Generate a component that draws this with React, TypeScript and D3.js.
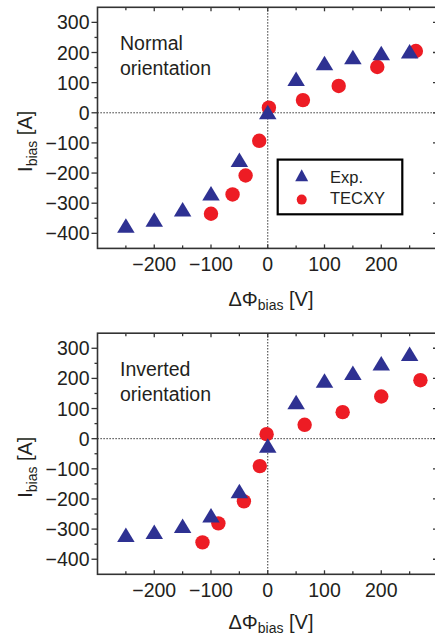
import React from "react";
import * as d3 from "d3";

// Bias voltage / bias current characteristics
const xTickValues = [-200, -100, 0, 100, 200];
const yTickValues = [-400, -300, -200, -100, 0, 100, 200, 300];

// Normal orientation
const normalExpPhi = [-250, -200, -150, -100, -50, 0, 50, 100, 150, 200, 250];
const normalExpI = [-374, -354, -320, -267, -156, 3, 113, 165, 185, 198, 204];
const normalTecxyPhi = [-100, -62, -39, -15, 2, 62, 125, 193, 261];
const normalTecxyI = [-335, -271, -208, -93, 17, 42, 89, 152, 205];

// Inverted orientation
const invertedExpPhi = [-250, -200, -150, -100, -50, 0, 50, 100, 150, 200, 250];
const invertedExpI = [-319, -309, -289, -254, -174, -23, 122, 193, 219, 250, 282];
const invertedTecxyPhi = [-115, -87, -42, -14, -2, 65, 132, 200, 269];
const invertedTecxyI = [-344, -281, -208, -91, 15, 46, 88, 140, 194];

const legendLabels = ["Exp.", "TECXY"];

const EXP_COLOR = "#2e3192";
const TECXY_COLOR = "#ed1c24";
const AXIS_COLOR = "#333";
const TEXT_COLOR = "#231f20";
const FONT = "'Liberation Sans', Arial, Helvetica, sans-serif";

const WIDTH = 435;
const HEIGHT = 638;

const trianglePath = (cx: number, cy: number, w: number, h: number) =>
  `M${cx},${cy - h / 2}L${cx + w / 2},${cy + h / 2}L${cx - w / 2},${cy + h / 2}Z`;

type PanelProps = {
  top: number;
  expPhi: number[];
  expI: number[];
  tecPhi: number[];
  tecI: number[];
  title: string[];
  legend: boolean;
  xTitleY: number;
};

function Panel({ top, expPhi, expI, tecPhi, tecI, title, legend, xTitleY }: PanelProps) {
  const left = 97.5;
  const right = 438;
  const plotTop = top;
  const plotBottom = top + 241.1;

  const x = d3.scaleLinear().domain([-300, 300]).range([left, right]);
  const y = d3.scaleLinear().domain([-450, 350]).range([plotBottom, plotTop]);

  const xAllTicks = d3.range(-250, 300, 50);
  const yAllTicks = d3.range(-450, 351, 50).filter((v) => v > -450 && v < 350);

  const tickFont = 19.5;

  return (
    <g>
      {/* zero reference lines */}
      <line
        x1={left}
        x2={right}
        y1={y(0)}
        y2={y(0)}
        stroke="#000"
        strokeWidth={1}
        strokeDasharray="1.2,1.8"
      />
      <line
        x1={x(0)}
        x2={x(0)}
        y1={plotTop}
        y2={plotBottom}
        stroke="#000"
        strokeWidth={1}
        strokeDasharray="1.2,1.8"
      />

      {/* frame */}
      <rect
        x={left}
        y={plotTop}
        width={right - left}
        height={plotBottom - plotTop}
        fill="none"
        stroke={AXIS_COLOR}
        strokeWidth={1.6}
      />

      {/* x ticks: inward on top and bottom */}
      {xAllTicks.map((v) => {
        const major = v % 100 === 0;
        const len = major ? 4 : 3;
        return (
          <g key={`xt${v}`}>
            <line x1={x(v)} x2={x(v)} y1={plotBottom} y2={plotBottom - len} stroke={AXIS_COLOR} strokeWidth={1.3} />
            <line x1={x(v)} x2={x(v)} y1={plotTop} y2={plotTop + len} stroke={AXIS_COLOR} strokeWidth={1.3} />
          </g>
        );
      })}

      {/* y ticks: outward on the left, inward on the right */}
      {yAllTicks.map((v) => {
        const major = v % 100 === 0;
        return (
          <g key={`yt${v}`}>
            <line x1={left} x2={left - (major ? 6 : 3)} y1={y(v)} y2={y(v)} stroke={AXIS_COLOR} strokeWidth={1.3} />
            <line x1={right} x2={right - (major ? 5 : 3)} y1={y(v)} y2={y(v)} stroke={AXIS_COLOR} strokeWidth={1.3} />
          </g>
        );
      })}

      {/* tick labels */}
      {xTickValues.map((v) => (
        <text
          key={`xl${v}`}
          x={x(v)}
          y={plotBottom + 22.5}
          textAnchor="middle"
          fontSize={tickFont}
          fontFamily={FONT}
          fill={TEXT_COLOR}
        >
          {v < 0 ? `\u2212${Math.abs(v)}` : `${v}`}
        </text>
      ))}
      {yTickValues.map((v) => (
        <text
          key={`yl${v}`}
          x={left - 8}
          y={y(v) + 7}
          textAnchor="end"
          fontSize={tickFont}
          fontFamily={FONT}
          fill={TEXT_COLOR}
        >
          {v < 0 ? `\u2212${Math.abs(v)}` : `${v}`}
        </text>
      ))}

      {/* axis titles */}
      <text
        transform={`translate(32,${top + 134}) rotate(-90)`}
        textAnchor="middle"
        fontSize={20}
        fontFamily={FONT}
        fill={TEXT_COLOR}
      >
        I
        <tspan fontSize={14} dy={4.5}>bias</tspan>
        <tspan dy={-4.5}> [A]</tspan>
      </text>
      <text
        x={271}
        y={xTitleY}
        textAnchor="middle"
        fontSize={20}
        fontFamily={FONT}
        fill={TEXT_COLOR}
      >
        ΔΦ
        <tspan fontSize={14} dy={4}>bias</tspan>
        <tspan dy={-4}> [V]</tspan>
      </text>

      {/* panel annotation */}
      <text x={120} y={top + 43} fontSize={19.5} fontFamily={FONT} fill={TEXT_COLOR}>
        {title[0]}
      </text>
      <text x={120} y={top + 68} fontSize={19.5} fontFamily={FONT} fill={TEXT_COLOR}>
        {title[1]}
      </text>

      {/* TECXY simulation */}
      {tecPhi.map((p, i) => (
        <circle key={`c${i}`} cx={x(p)} cy={y(tecI[i])} r={7.2} fill={TECXY_COLOR} />
      ))}

      {/* experimental data */}
      {expPhi.map((p, i) => (
        <path key={`t${i}`} d={trianglePath(x(p), y(expI[i]), 17.5, 14.5)} fill={EXP_COLOR} />
      ))}

      {legend && (
        <g>
          <rect x={277.7} y={top + 152.3} width={124.6} height={54.7} fill="#fff" stroke="#000" strokeWidth={2.2} />
          <path d={trianglePath(301.7, top + 168, 13, 12)} fill={EXP_COLOR} />
          <circle cx={301.7} cy={top + 192.3} r={5} fill={TECXY_COLOR} />
          <text x={330} y={top + 176} fontSize={16.5} fontFamily={FONT} fill={TEXT_COLOR}>
            {legendLabels[0]}
          </text>
          <text x={330} y={top + 197} fontSize={16.5} fontFamily={FONT} fill={TEXT_COLOR}>
            {legendLabels[1]}
          </text>
        </g>
      )}
    </g>
  );
}

export default function App() {
  return (
    <svg
      width={WIDTH}
      height={HEIGHT}
      viewBox={`0 0 ${WIDTH} ${HEIGHT}`}
      style={{ position: "absolute", left: 0, top: 0, display: "block", background: "#fff" }}
    >
      <rect width={WIDTH} height={HEIGHT} fill="#fff" />
      <Panel
        top={7.3}
        expPhi={normalExpPhi}
        expI={normalExpI}
        tecPhi={normalTecxyPhi}
        tecI={normalTecxyI}
        title={["Normal", "orientation"]}
        legend={true}
        xTitleY={306}
      />
      <Panel
        top={333.2}
        expPhi={invertedExpPhi}
        expI={invertedExpI}
        tecPhi={invertedTecxyPhi}
        tecI={invertedTecxyI}
        title={["Inverted", "orientation"]}
        legend={false}
        xTitleY={629}
      />
    </svg>
  );
}
